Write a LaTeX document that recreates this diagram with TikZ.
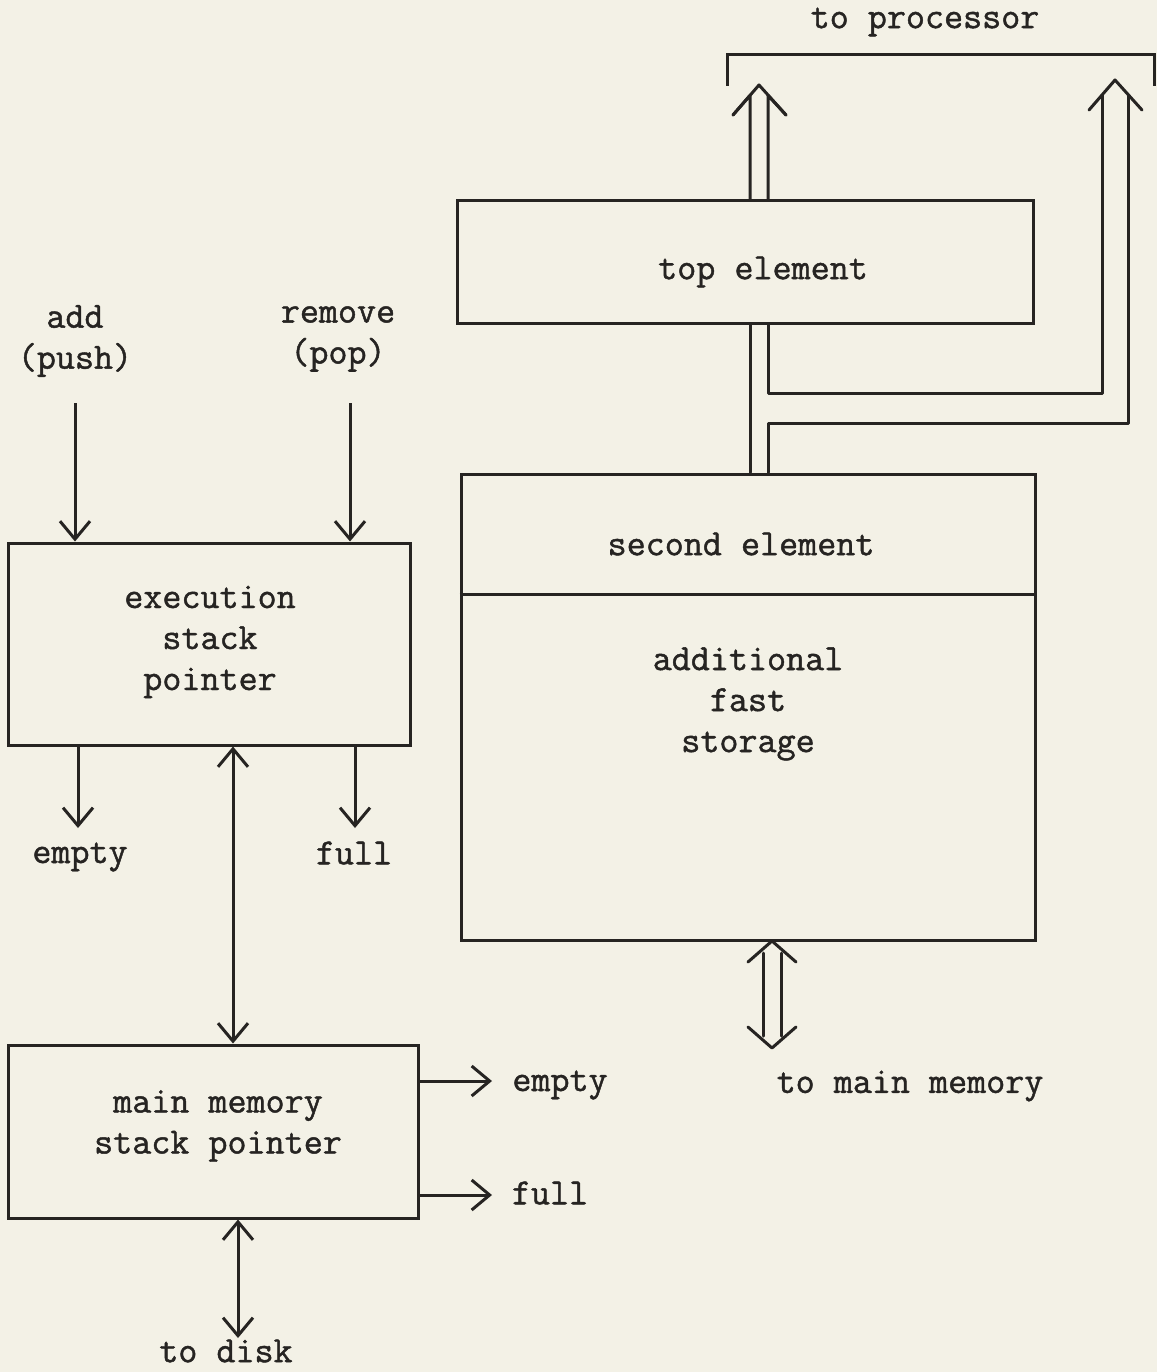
\documentclass[tikz,border=0pt]{standalone}
\usepackage{fontspec}
\newfontfamily\tw{Latin Modern Mono}[FakeBold=1.2]
\usetikzlibrary{arrows.meta,calc}
\definecolor{paper}{RGB}{243,241,230}
\definecolor{ink}{RGB}{38,36,34}
\begin{document}
\begin{tikzpicture}[x=1pt,y=-1pt,
  line width=3pt, draw=ink, text=ink,
  every node/.style={font=\tw\fontsize{37}{41}\selectfont, align=center, inner sep=0pt},
  blk/.style={draw=ink, line width=3pt},
  tip/.style={-{Straight Barb[length=18pt,width=30pt,line width=3pt]}},
  tips/.style={{Straight Barb[length=18pt,width=30pt,line width=3pt]}-{Straight Barb[length=18pt,width=30pt,line width=3pt]}},
  fat/.style={line width=3pt, line join=round, line cap=round}
]
\fill[paper] (0,0) rectangle (1157,1372);
\useasboundingbox (0,0) rectangle (1157,1372);

% right column boxes
\node[blk, minimum width=576pt, minimum height=122pt] (top) at (745,262) {};
\node at (763,272) {top element};
\node[blk, minimum width=574pt, minimum height=466pt] (big) at (748,707) {};
\draw (big.west |- 0,594) -- (big.east |- 0,594);
\node (second) at (741,544) {second element};
\node (fast) at (748,704) {additional\\fast\\storage};

% left column boxes
\node[blk, minimum width=402pt, minimum height=202pt] (esp) at (209,644) {};
\node at (210,642) {execution\\stack\\pointer};
\node[blk, minimum width=410pt, minimum height=173pt] (mmsp) at (213,1131.5) {};
\node at (218,1126) {main memory\\stack pointer};

% labels
\node (proc) at (925,22) {to processor};
\node (add) at (75,341) {add\\(push)};
\node (rem) at (338,339) {remove\\(pop)};
\node (e1) at (80,857) {empty};
\node (f1) at (354,853) {full};
\node (e2) at (560,1085) {empty};
\node (f2) at (550,1193) {full};
\node (disk) at (226,1351) {to disk};
\node (mm) at (910,1086) {to main memory};

% input arrows
\draw[tip] (75,403) -- (75,0 |- esp.north);
\draw[tip] (350,403) -- (350,0 |- esp.north);
% flag outputs
\draw[tip] (78,0 |- esp.south) -- (78,828);
\draw[tip] (355,0 |- esp.south) -- (355,828);
\draw[tip] (mmsp.east |- 0,1081) -- (492,1081);
\draw[tip] (mmsp.east |- 0,1195) -- (492,1195);
% pointer links
\draw[tips] (233,0 |- esp.south) -- (233,0 |- mmsp.north);
\draw[tips] (238,0 |- mmsp.south) -- (238,1338);

% fat arrow top element -> processor
\draw[fat] (750,0 |- top.north) -- (750,95.4) -- (733,115);
\draw[fat] (768,0 |- top.north) -- (768,95.4) -- (786,115);
\draw[fat] (733,115) -- (759,85) -- (786,115);
% link between boxes and right fat arrow
\draw[fat] (750,0 |- top.south) -- (750,0 |- big.north);
\draw[fat] (768,0 |- top.south) -- (768,393) -- (1102,393) -- (1102,94.7);
\draw[fat] (768,0 |- big.north) -- (768,423) -- (1128,423) -- (1128,94.7);
\draw[fat] (1089,110) -- (1115,80) -- (1142,110);
% bracket
\draw[line width=3pt] (727,86) -- (727,55) -- (1154,55) -- (1154,86);

% fat arrow to main memory
\draw[fat] (763,953) -- (763,1036);
\draw[fat] (781,953) -- (781,1036);
\draw[fat] (748,962) -- (772,941) -- (796,962);
\draw[fat] (748,1027) -- (772,1048) -- (796,1027);
\end{tikzpicture}
\end{document}
